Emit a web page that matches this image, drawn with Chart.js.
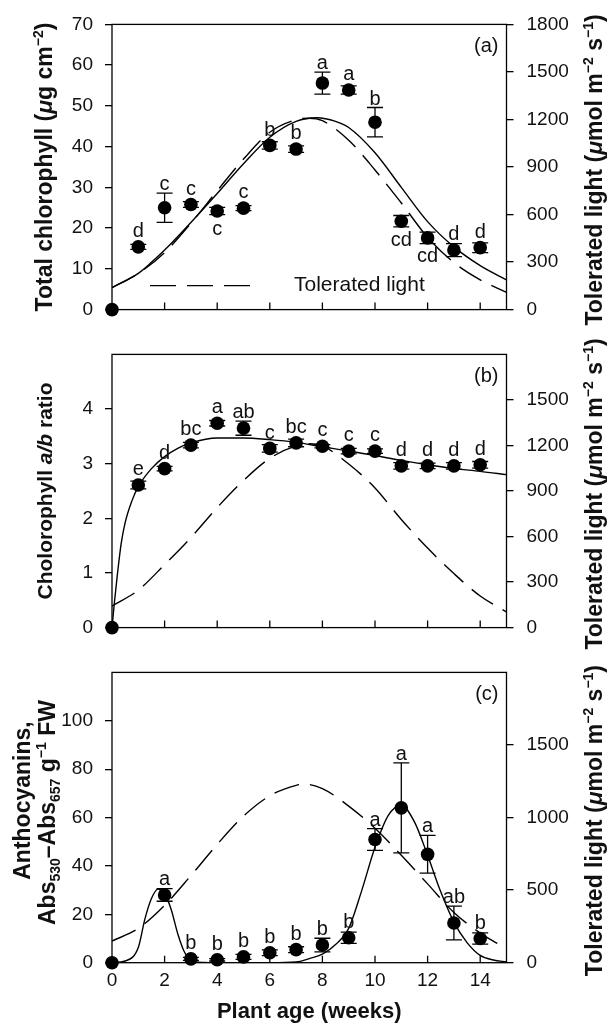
<!DOCTYPE html>
<html>
<head>
<meta charset="utf-8">
<script src="https://cdn.jsdelivr.net/npm/chart.js@4.4.1/dist/chart.umd.min.js"></script>
<style>
  body { margin: 0; background: #fff; }
  #wrap { position: relative; width: 608px; height: 1026px; }
  #wrap canvas { position: absolute; left: 0; }
</style>
</head>
<body>
<div id="wrap">
  <canvas id="chartA" width="608" height="334" style="top:0px"></canvas>
  <canvas id="chartB" width="608" height="322" style="top:330px"></canvas>
  <canvas id="chartC" width="608" height="378" style="top:648px"></canvas>
</div>
<script>
const FF = "'Liberation Sans', Arial, Helvetica, sans-serif";

// AXES
const weekRange = [0, 15];
const weekStep = 2;

// PANEL (a) total chlorophyll
const weeksA = [0, 1, 2, 3, 4, 5, 6, 7, 8, 9, 10, 11, 12, 13, 14];
const chlTotal = [0, 15.4, 25.0, 25.8, 24.2, 24.9, 40.3, 39.4, 55.6, 53.9, 46.0, 21.7, 17.6, 14.6, 15.2];
const chlTotalSe = [0, 0.6, 3.6, 0.7, 0.9, 0.6, 0.9, 0.8, 2.7, 1.0, 3.6, 1.4, 1.4, 1.6, 1.2];
const chlLetters = ['', 'd', 'c', 'c', 'c', 'c', 'b', 'b', 'a', 'a', 'b', 'cd', 'cd', 'd', 'd'];
const chlBelow = [4, 11, 12];
const chlFitWeeks = [0, 1, 1.5, 2, 3, 4, 5, 6, 7, 7.8, 8.5, 9, 10, 11, 12, 13, 14, 15];
const chlFit = [5.4, 8.9, 11.6, 14.6, 21.4, 28.5, 35.8, 42.3, 46.2, 47.1, 46.2, 44.7, 38.5, 30.0, 21.6, 15.4, 10.8, 7.3];
const lightAWeeks = [0, 1, 2, 3, 4, 5, 6, 7, 7.5, 8, 9, 10, 11, 12, 13, 14, 15];
const lightA = [138, 228, 360, 545, 750, 950, 1119, 1198, 1208, 1192, 1069, 881, 673, 456, 297, 188, 109];
const chlAxis = [0, 70, 10];
const lightAxisA = [0, 1800, 300];

// PANEL (b) chlorophyll a/b ratio
const weeksB = [0, 1, 2, 3, 4, 5, 6, 7, 8, 9, 10, 11, 12, 13, 14];
const abRatio = [0, 2.61, 2.91, 3.34, 3.74, 3.65, 3.28, 3.38, 3.32, 3.23, 3.23, 2.96, 2.96, 2.96, 2.98];
const abRatioSe = [0, 0.07, 0.04, 0.05, 0.05, 0.13, 0.07, 0.07, 0.03, 0.05, 0.04, 0.06, 0.05, 0.06, 0.06];
const abLetters = ['', 'e', 'd', 'bc', 'a', 'ab', 'c', 'bc', 'c', 'c', 'c', 'd', 'd', 'd', 'd'];
const abFitWeeks = [0, 0.1, 0.2, 0.35, 0.5, 0.75, 1, 1.5, 2, 2.5, 3, 4, 5, 6, 7, 8, 9, 10, 11, 12, 13, 14, 15];
const abFit = [0, 0.5, 0.95, 1.54, 1.92, 2.31, 2.58, 2.91, 3.13, 3.28, 3.38, 3.47, 3.47, 3.44, 3.39, 3.31, 3.23, 3.15, 3.06, 2.98, 2.91, 2.86, 2.80];
const lightBWeeks = [0, 1, 2, 3, 4, 5, 6, 7, 7.5, 8, 9, 10, 11, 12, 13, 14, 15];
const lightB = [142, 247, 415, 593, 791, 969, 1115, 1197, 1211, 1197, 1078, 920, 712, 524, 356, 208, 103];
const abAxis = [0, 5, 1, 4];
const lightAxisB = [0, 1800, 300, 1500];

// PANEL (c) anthocyanins
const weeksC = [0, 2, 3, 4, 5, 6, 7, 8, 9, 10, 11, 12, 13, 14];
const anthocyanin = [0, 28.0, 1.6, 1.2, 2.4, 4.1, 5.4, 7.3, 10.3, 50.9, 64.0, 44.8, 16.4, 10.0];
const anthocyaninSe = [0, 2.6, 0.6, 0.5, 1.0, 1.2, 1.2, 2.8, 2.3, 4.5, 18.6, 7.8, 7.0, 2.3];
const anthoLetters = ['', 'a', 'b', 'b', 'b', 'b', 'b', 'b', 'b', 'a', 'a', 'a', 'ab', 'b'];
const anthoFitWeeks = [0, 0.5, 1, 1.25, 1.5, 1.75, 2, 2.25, 2.5, 2.75, 3, 3.5, 4, 5, 6, 7, 7.5, 8, 8.5, 9, 9.5, 10, 10.5, 11, 11.5, 12, 12.5, 13, 13.5, 14, 14.5, 15];
const anthoFit = [0, 0.7, 6.3, 18, 26.5, 30.4, 28.5, 22, 12, 4.5, 1, 0.1, 0, 0, 0, 0.3, 1.7, 3.5, 7.5, 14.2, 30, 47.7, 60.8, 65.1, 58.2, 44.4, 29.3, 16.8, 8.3, 3.0, 1.1, 0.3];
const lightCWeeks = [0, 1, 2, 3, 4, 5, 6, 7, 7.3, 8, 9, 10, 11, 12, 13, 14, 14.7];
const lightC = [149, 236, 395, 600, 815, 1010, 1150, 1222, 1230, 1199, 1079, 926, 740, 543, 346, 204, 127];
const anthoAxis = [0, 120, 20, 100];
const lightAxisC = [0, 2000, 500, 1500];

function pts(xs, ys) {
  return xs.map((x, i) => ({ x: x, y: ys[i] }));
}

function drawRich(ctx, parts, cx, cy, size) {
  const fonts = parts.map(p => (p[1] === 'sup' || p[1] === 'sub') ? 'bold ' + Math.round(size * 0.62) + 'px ' + FF
    : p[1] === 'i' ? 'italic bold ' + size + 'px ' + FF : 'bold ' + size + 'px ' + FF);
  let w = 0;
  parts.forEach((p, i) => { ctx.font = fonts[i]; w += ctx.measureText(p[0]).width; });
  let x = cx - w / 2;
  const base = cy + size * 0.36;
  ctx.textAlign = 'left';
  ctx.textBaseline = 'alphabetic';
  parts.forEach((p, i) => {
    ctx.font = fonts[i];
    const dy = p[1] === 'sup' ? -size * 0.4 : p[1] === 'sub' ? size * 0.22 : 0;
    ctx.fillText(p[0], x, base + dy);
    x += ctx.measureText(p[0]).width;
  });
}

function vText(ctx, parts, x, y, size) {
  ctx.save();
  ctx.translate(x, y);
  ctx.rotate(-Math.PI / 2);
  drawRich(ctx, parts, 0, 0, size);
  ctx.restore();
}

// frame, inner ticks, error bars, letters, titles
const deco = {
  id: 'deco',
  afterDatasetsDraw(chart, args, o) {
    const ctx = chart.ctx, a = chart.chartArea;
    const xs = chart.scales.x, ys = chart.scales.y;
    ctx.save();
    ctx.strokeStyle = '#000';
    ctx.fillStyle = '#111';
    ctx.lineWidth = 1.3;
    ctx.strokeRect(a.left, a.top, a.right - a.left, a.bottom - a.top);

    ctx.beginPath();
    xs.ticks.forEach(t => {
      if (t.value <= 0) return;
      const px = xs.getPixelForValue(t.value);
      ctx.moveTo(px, a.bottom);
      ctx.lineTo(px, a.bottom - 7);
    });
    ctx.stroke();

    ctx.beginPath();
    o.wk.forEach((w, i) => {
      const e = o.se[i];
      if (!e) return;
      const px = xs.getPixelForValue(w);
      const t = ys.getPixelForValue(o.val[i] + e), b = ys.getPixelForValue(o.val[i] - e);
      ctx.moveTo(px, t); ctx.lineTo(px, b);
      ctx.moveTo(px - 8, t); ctx.lineTo(px + 8, t);
      ctx.moveTo(px - 8, b); ctx.lineTo(px + 8, b);
    });
    ctx.stroke();

    ctx.font = '20px ' + FF;
    ctx.textAlign = 'center';
    o.wk.forEach((w, i) => {
      const L = o.letters[i];
      if (!L) return;
      const px = xs.getPixelForValue(w), py = ys.getPixelForValue(o.val[i]);
      if (o.below.includes(w)) {
        const bot = Math.max(py + 6.8, ys.getPixelForValue(o.val[i] - o.se[i]));
        ctx.textBaseline = 'top';
        ctx.fillText(L, px, bot + 2);
      } else {
        const top = Math.min(py - 6.8, ys.getPixelForValue(o.val[i] + o.se[i]));
        ctx.textBaseline = 'alphabetic';
        ctx.fillText(L, px, top - 3);
      }
    });

    ctx.textAlign = 'right';
    ctx.textBaseline = 'middle';
    ctx.fillText(o.tag, a.right - 8, a.top + 22);

    if (o.legend) {
      const ly = a.bottom - 24;
      ctx.save();
      ctx.lineWidth = 1.4;
      ctx.setLineDash([26, 11]);
      ctx.beginPath();
      ctx.moveTo(a.left + 38, ly);
      ctx.lineTo(a.left + 141, ly);
      ctx.stroke();
      ctx.restore();
      ctx.font = '21px ' + FF;
      ctx.textAlign = 'left';
      ctx.textBaseline = 'middle';
      ctx.fillText('Tolerated light', a.left + 182, ly);
    }

    const cy = (a.top + a.bottom) / 2;
    o.leftTitle.forEach(line => vText(ctx, line.parts, line.x, cy + line.dy, line.size || 23));
    vText(ctx, rightTitle, 594, cy + 3, 23);
    ctx.restore();
  }
};

const rightTitle = [['Tolerated light (', ''], ['\u03bc', 'i'], ['mol m', ''], ['\u22122', 'sup'], [' s', ''], ['\u22121', 'sup'], [')', '']];

function makePanel(id, p) {
  return new Chart(document.getElementById(id), {
    type: 'scatter',
    data: {
      datasets: [
        { data: pts(p.wk, p.val), yAxisID: 'y', pointRadius: 6.8, pointHoverRadius: 6.8,
          backgroundColor: '#000', borderColor: '#000', borderWidth: 0, clip: false },
        { type: 'line', data: pts(p.fitX, p.fitY), yAxisID: 'y', showLine: true, borderColor: '#000',
          borderWidth: 1.4, pointRadius: 0, cubicInterpolationMode: 'monotone', fill: false },
        { type: 'line', data: pts(p.lightX, p.lightY), yAxisID: 'y2', showLine: true, borderColor: '#000',
          borderWidth: 1.4, borderDash: [26, 11], pointRadius: 0, cubicInterpolationMode: 'monotone', fill: false }
      ]
    },
    options: {
      responsive: false, animation: false, devicePixelRatio: 1, events: [],
      layout: { padding: { top: p.padTop, left: 0, right: 0, bottom: 0 } },
      plugins: { legend: { display: false }, tooltip: { enabled: false }, deco: p },
      scales: {
        x: {
          type: 'linear', min: weekRange[0], max: weekRange[1],
          afterFit: s => { s.height = p.xH; },
          grid: { display: false, drawTicks: false }, border: { display: false },
          ticks: { display: p.xLabels, stepSize: weekStep, includeBounds: false, padding: 7, color: '#111',
                   maxRotation: 0, autoSkip: false, font: { family: FF, size: 19 } },
          title: { display: p.xLabels, text: 'Plant age (weeks)', color: '#111',
                   font: { family: FF, size: 22, weight: 'bold' }, padding: { top: 0, bottom: 1 } }
        },
        y: {
          position: 'left', min: p.yAx[0], max: p.yAx[1],
          afterFit: s => { s.width = 112; },
          border: { display: false },
          grid: { drawOnChartArea: false, drawTicks: true, tickLength: 7, color: '#000', lineWidth: 1.3 },
          ticks: { stepSize: p.yAx[2], padding: 12, color: '#111', font: { family: FF, size: 19 },
                   callback: v => (p.yAx[3] !== undefined && v > p.yAx[3]) ? null : v }
        },
        y2: {
          position: 'right', min: p.rAx[0], max: p.rAx[1],
          afterFit: s => { s.width = 101.5; },
          border: { display: false },
          grid: { drawOnChartArea: false, drawTicks: true, tickLength: 7, color: '#000', lineWidth: 1.3 },
          ticks: { stepSize: p.rAx[2], padding: 13, color: '#111', font: { family: FF, size: 19 },
                   callback: v => (p.rAx[3] !== undefined && v > p.rAx[3]) ? null : v }
        }
      }
    },
    plugins: [deco]
  });
}

makePanel('chartA', {
  wk: weeksA, val: chlTotal, se: chlTotalSe, letters: chlLetters, below: chlBelow,
  fitX: chlFitWeeks, fitY: chlFit, lightX: lightAWeeks, lightY: lightA,
  yAx: chlAxis, rAx: lightAxisA, padTop: 17, xH: 14, xLabels: false, tag: '(a)', legend: true,
  leftTitle: [{ x: 44, dy: 0, parts: [['Total chlorophyll (', ''], ['\u03bc', 'i'], ['g cm', ''], ['\u22122', 'sup'], [')', '']] }]
});

makePanel('chartB', {
  wk: weeksB, val: abRatio, se: abRatioSe, letters: abLetters, below: [],
  fitX: abFitWeeks, fitY: abFit, lightX: lightBWeeks, lightY: lightB,
  yAx: abAxis, rAx: lightAxisB, padTop: 6.7, xH: 12, xLabels: false, tag: '(b)', legend: false,
  leftTitle: [{ x: 44, dy: 0, size: 21, parts: [['Cholorophyll ', ''], ['a/b', 'i'], [' ratio', '']] }]
});

makePanel('chartC', {
  wk: weeksC, val: anthocyanin, se: anthocyaninSe, letters: anthoLetters, below: [],
  fitX: anthoFitWeeks, fitY: anthoFit, lightX: lightCWeeks, lightY: lightC,
  yAx: anthoAxis, rAx: lightAxisC, padTop: 10, xH: 63.3, xLabels: true, tag: '(c)', legend: false,
  leftTitle: [
    { x: 22, dy: -17, parts: [['Anthocyanins,', '']] },
    { x: 47, dy: -5, parts: [['Abs', ''], ['530', 'sub'], ['\u2013Abs', ''], ['657', 'sub'], [' g', ''], ['\u22121', 'sup'], [' FW', '']] }
  ]
});
</script>
</body>
</html>
